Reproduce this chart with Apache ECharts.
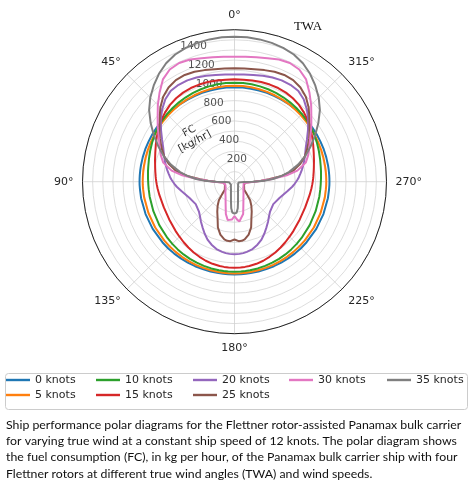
<!DOCTYPE html>
<html><head><meta charset="utf-8">
<script src="https://cdn.jsdelivr.net/npm/echarts@6/dist/echarts.min.js"></script>
<style>html,body{margin:0;padding:0;background:#fff}#c{width:471px;height:489px}</style>
</head><body><div id="c"></div>
<script>
// True wind angle (deg) for the left half; the diagram is symmetric about 0-180
const angles = [0,5,10,15,20,25,30,35,40,45,50,55,60,65,70,75,80,83,86,88,90,92,95,100,110,120,130,135,140,145,150,155,160,165,170,173,176,180];
// Fuel consumption (kg/hr) per wind speed
const fc0  = [932,932,932,932,933,933,933,934,934,935,935,936,936,936,937,937,937,937,937,937,937,937,936,936,934,932,929,928,926,924,922,920,918,917,916,916,915,915];
const fc5  = [947,947,946,945,943,941,938,935,931,927,923,919,916,913,911,909,907,907,906,906,906,906,905,905,904,904,904,904,904,905,905,905,905,905,905,905,905,905];
const fc10 = [977,977,976,974,971,967,962,956,950,943,935,925,913,899,886,874,864,860,856,854,852,851,850,850,852,857,864,868,872,876,879,882,884,886,887,888,888,888];
const fc15 = [1010,1011,1014,1018,1020,1020,1015,1005,990,968,944,915,885,857,832,812,795,787,780,776,772,768,762,753,742,744,758,768,780,793,806,818,830,839,845,847,848,849];
const fc20 = [1059,1062,1070,1082,1095,1103,1104,1095,1062,1010,950,885,825,775,740,708,675,655,637,623,608,594,572,532,472,442,458,482,515,550,590,630,662,688,703,710,714,716];
const fc25 = [1119,1121,1128,1140,1155,1162,1158,1135,1095,1035,965,905,850,795,740,670,580,470,340,260,190,140,105,97,100,110,125,170,240,290,340,395,480,540,578,588,588,570];
const fc30 = [1234,1237,1246,1262,1284,1292,1278,1232,1150,1070,990,925,862,815,775,728,630,520,360,270,200,150,110,92,95,102,115,125,140,155,176,208,255,330,385,395,375,340];
const fc35 = [1431,1430,1426,1418,1405,1385,1350,1300,1240,1175,1100,1010,920,830,745,650,545,470,380,300,180,90,55,40,38,42,46,50,55,62,70,82,102,135,200,265,305,315];

const seriesNames = ['0 knots','5 knots','10 knots','15 knots','20 knots','25 knots','30 knots','35 knots'];
const seriesValues = [fc0, fc5, fc10, fc15, fc20, fc25, fc30, fc35];
const colors = ['#1f77b4','#ff7f0e','#2ca02c','#d62728','#9467bd','#8c564b','#e377c2','#7f7f7f'];
const radiusTickLabels = [200,400,600,800,1000,1200,1400];
const legendColumns = [['0 knots','5 knots'],['10 knots','15 knots'],['20 knots','25 knots'],['30 knots'],['35 knots']];
const caption = [
  'Ship performance polar diagrams for the Flettner rotor-assisted Panamax bulk carrier',
  'for varying true wind at a constant ship speed of 12 knots. The polar diagram shows',
  'the fuel consumption (FC), in kg per hour, of the Panamax bulk carrier ship with four',
  'Flettner rotors at different true wind angles (TWA) and wind speeds.'
];

// full loop: left half then its mirror image on the right half
function loop(vals) {
  const pts = angles.map((a, i) => [vals[i], a]);
  for (let i = angles.length - 2; i >= 0; i--) pts.push([vals[i], 360 - angles[i]]);
  return pts;
}

const chart = echarts.init(document.getElementById('c'), null, {renderer: 'canvas'});
const FONT = 'DejaVu Sans';
const legendLeft = [6, 96, 193, 289, 387];

const series = seriesNames.map((n, i) => ({
  name: n, type: 'line', coordinateSystem: 'polar', polarIndex: 0,
  data: loop(seriesValues[i]), symbol: 'none', smooth: false, z: 3,
  lineStyle: {color: colors[i], width: 2}, itemStyle: {color: colors[i]}
}));
series.push({
  name: 'rticks', type: 'scatter', coordinateSystem: 'polar', polarIndex: 0, silent: true, z: 1,
  data: radiusTickLabels.map(v => [v, 22.5]), symbolSize: 0.1, itemStyle: {color: 'rgba(0,0,0,0)'},
  label: {show: true, position: 'right', distance: 0, offset: [0, -4],
    formatter: p => String(p.value[0]), fontFamily: FONT, fontSize: 10.5, color: '#262626'}
});

chart.setOption({
  animation: false,
  backgroundColor: '#fff',
  title: {
    text: caption.join('\n'), left: 6, top: 417, padding: 0,
    textStyle: {fontFamily: 'Lato', fontSize: 12.3, fontWeight: 'normal', lineHeight: 16.2, color: '#111'}
  },
  polar: {center: [234.5, 181.7], radius: 152},
  angleAxis: {
    type: 'value', min: 0, max: 360, interval: 45, startAngle: 90, clockwise: false,
    axisLine: {show: true, lineStyle: {color: '#222', width: 1}},
    axisTick: {show: false},
    axisLabel: {margin: 9, fontFamily: FONT, fontSize: 11, color: '#262626',
      formatter: v => (v >= 360 ? '' : v + '°')},
    splitLine: {show: true, lineStyle: {color: '#cfcfcf', width: 0.8}}
  },
  radiusAxis: {
    type: 'value', min: 0, max: 1500, interval: 100,
    axisLine: {show: false}, axisTick: {show: false}, axisLabel: {show: false},
    splitLine: {show: true, lineStyle: {color: '#d4d4d4', width: 0.8}}
  },
  legend: legendColumns.map((col, k) => ({
    data: col, orient: 'vertical', left: legendLeft[k], top: 373.5, padding: 0,
    itemGap: 2, itemWidth: 24, itemHeight: 2.4, icon: 'rect',
    textStyle: {fontFamily: FONT, fontSize: 11, lineHeight: 13, color: '#262626'}
  })),
  graphic: [
    {type: 'rect', left: 3, top: 371, shape: {width: 462, height: 36, r: 3},
      style: {fill: 'none', stroke: '#cccccc', lineWidth: 1}, z: -1},
    {type: 'text', x: 308, y: 27, style: {text: 'TWA', font: '13px "Liberation Serif"', fill: '#111', align: 'center', verticalAlign: 'middle'}},
    {type: 'text', x: 192, y: 136.5, rotation: 28 * Math.PI / 180,
      style: {text: 'FC\n[kg/hr]', font: '10.5px "DejaVu Sans"', fill: '#262626', align: 'center', verticalAlign: 'middle', lineHeight: 12}}
  ],
  series: series
});
</script></body></html>
